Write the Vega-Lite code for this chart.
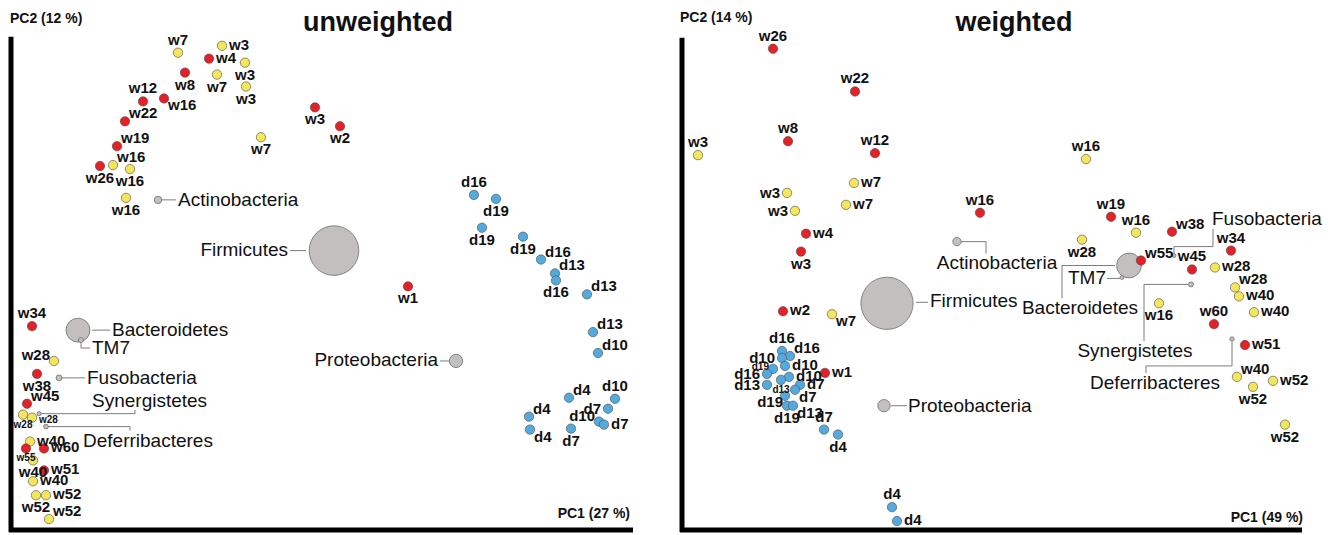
{
  "$schema": "https://vega.github.io/schema/vega-lite/v6.json",
  "width": 1330,
  "height": 535,
  "padding": 0,
  "autosize": {"type": "fit", "contains": "padding"},
  "background": "white",
  "view": {"stroke": null},
  "config": {"text": {"font": "Liberation Sans"}},
  "datasets": {
    "frame": [
      {"x": 11, "y": 37, "x2": 11, "y2": 535},
      {"x": 9, "y": 533, "x2": 633, "y2": 533},
      {"x": 682, "y": 38, "x2": 682, "y2": 535},
      {"x": 680, "y": 533, "x2": 1302, "y2": 533}
    ],
    "notes": [
      {"text": "unweighted", "x": 378, "y": 31, "kind": "title"},
      {"text": "weighted", "x": 1014, "y": 31, "kind": "title"},
      {"text": "PC2 (12 %)", "x": 10, "y": 23, "kind": "yaxis"},
      {"text": "PC2 (14 %)", "x": 680, "y": 22, "kind": "yaxis"},
      {"text": "PC1 (27 %)", "x": 630, "y": 521, "kind": "xaxis"},
      {"text": "PC1 (49 %)", "x": 1303, "y": 525, "kind": "xaxis"}
    ],
    "taxa": [
      {"analysis": "unweighted", "name": "Firmicutes", "x": 334, "y": 252, "abundance": 56},
      {"analysis": "unweighted", "name": "Bacteroidetes", "x": 78, "y": 332, "abundance": 13},
      {"analysis": "unweighted", "name": "Proteobacteria", "x": 456, "y": 363, "abundance": 4},
      {"analysis": "unweighted", "name": "Actinobacteria", "x": 158, "y": 201, "abundance": 1.25},
      {"analysis": "unweighted", "name": "Fusobacteria", "x": 59, "y": 380, "abundance": 0.8},
      {"analysis": "unweighted", "name": "TM7", "x": 81, "y": 342, "abundance": 0.56},
      {"analysis": "unweighted", "name": "Deferribacteres", "x": 46, "y": 429, "abundance": 0.5},
      {"analysis": "unweighted", "name": "Synergistetes", "x": 39, "y": 416, "abundance": 0.4},
      {"analysis": "weighted", "name": "Firmicutes", "x": 887, "y": 305, "abundance": 62},
      {"analysis": "weighted", "name": "Bacteroidetes", "x": 1129, "y": 267, "abundance": 14},
      {"analysis": "weighted", "name": "Proteobacteria", "x": 884, "y": 408, "abundance": 3.5},
      {"analysis": "weighted", "name": "Actinobacteria", "x": 957, "y": 243, "abundance": 1.6},
      {"analysis": "weighted", "name": "Synergistetes", "x": 1191, "y": 286, "abundance": 0.56},
      {"analysis": "weighted", "name": "Deferribacteres", "x": 1232, "y": 341, "abundance": 0.45},
      {"analysis": "weighted", "name": "Fusobacteria", "x": 1174, "y": 257, "abundance": 0.35},
      {"analysis": "weighted", "name": "TM7", "x": 1122, "y": 279, "abundance": 0.35}
    ],
    "taxonLabels": [
      {"name": "Actinobacteria", "x": 178, "y": 201, "side": "r"},
      {"name": "Firmicutes", "x": 288, "y": 251, "side": "l"},
      {"name": "Bacteroidetes", "x": 112, "y": 332, "side": "r"},
      {"name": "TM7", "x": 92, "y": 350, "side": "r"},
      {"name": "Fusobacteria", "x": 87, "y": 380, "side": "r"},
      {"name": "Synergistetes", "x": 92, "y": 403, "side": "r"},
      {"name": "Deferribacteres", "x": 83, "y": 443, "side": "r"},
      {"name": "Proteobacteria", "x": 438, "y": 362, "side": "l"},
      {"name": "Actinobacteria", "x": 997, "y": 264, "side": "c"},
      {"name": "Firmicutes", "x": 930, "y": 303, "side": "r"},
      {"name": "Bacteroidetes", "x": 1080, "y": 310, "side": "c"},
      {"name": "TM7", "x": 1106, "y": 280, "side": "l"},
      {"name": "Fusobacteria", "x": 1212, "y": 220, "side": "r"},
      {"name": "Synergistetes", "x": 1135, "y": 353, "side": "c"},
      {"name": "Deferribacteres", "x": 1155, "y": 385, "side": "c"},
      {"name": "Proteobacteria", "x": 908, "y": 408, "side": "r"}
    ],
    "connectors": [
      {"cid": "uAct", "ord": 1, "x": 162, "y": 201}, {"cid": "uAct", "ord": 2, "x": 176, "y": 201},
      {"cid": "uFir", "ord": 1, "x": 290, "y": 252}, {"cid": "uFir", "ord": 2, "x": 306, "y": 252},
      {"cid": "uBac", "ord": 1, "x": 92, "y": 332}, {"cid": "uBac", "ord": 2, "x": 110, "y": 332},
      {"cid": "uTM7", "ord": 1, "x": 81, "y": 344}, {"cid": "uTM7", "ord": 2, "x": 81, "y": 350}, {"cid": "uTM7", "ord": 3, "x": 90, "y": 350},
      {"cid": "uFus", "ord": 1, "x": 62, "y": 380}, {"cid": "uFus", "ord": 2, "x": 85, "y": 380},
      {"cid": "uSyn", "ord": 1, "x": 41, "y": 416}, {"cid": "uSyn", "ord": 2, "x": 135, "y": 416}, {"cid": "uSyn", "ord": 3, "x": 135, "y": 412},
      {"cid": "uDef", "ord": 1, "x": 48, "y": 429}, {"cid": "uDef", "ord": 2, "x": 130, "y": 429}, {"cid": "uDef", "ord": 3, "x": 130, "y": 433},
      {"cid": "uPro", "ord": 1, "x": 440, "y": 363}, {"cid": "uPro", "ord": 2, "x": 449, "y": 363},
      {"cid": "wAct", "ord": 1, "x": 961, "y": 243}, {"cid": "wAct", "ord": 2, "x": 986, "y": 243}, {"cid": "wAct", "ord": 3, "x": 986, "y": 255},
      {"cid": "wFir", "ord": 1, "x": 916, "y": 304}, {"cid": "wFir", "ord": 2, "x": 928, "y": 304},
      {"cid": "wBac", "ord": 1, "x": 1115, "y": 267}, {"cid": "wBac", "ord": 2, "x": 1062, "y": 267}, {"cid": "wBac", "ord": 3, "x": 1062, "y": 300},
      {"cid": "wTM7", "ord": 1, "x": 1120, "y": 280}, {"cid": "wTM7", "ord": 2, "x": 1107, "y": 280},
      {"cid": "wFus", "ord": 1, "x": 1174, "y": 255}, {"cid": "wFus", "ord": 2, "x": 1174, "y": 248}, {"cid": "wFus", "ord": 3, "x": 1213, "y": 248}, {"cid": "wFus", "ord": 4, "x": 1213, "y": 230},
      {"cid": "wSyn", "ord": 1, "x": 1188, "y": 286}, {"cid": "wSyn", "ord": 2, "x": 1144, "y": 286}, {"cid": "wSyn", "ord": 3, "x": 1144, "y": 343},
      {"cid": "wDef", "ord": 1, "x": 1232, "y": 344}, {"cid": "wDef", "ord": 2, "x": 1232, "y": 368}, {"cid": "wDef", "ord": 3, "x": 1146, "y": 368}, {"cid": "wDef", "ord": 4, "x": 1146, "y": 375},
      {"cid": "wPro", "ord": 1, "x": 891, "y": 408}, {"cid": "wPro", "ord": 2, "x": 907, "y": 408}
    ],
    "points": [
      {"a": "u", "s": "w7", "g": "Y", "x": 178, "y": 53, "pos": "t"},
      {"a": "u", "s": "w3", "g": "Y", "x": 222, "y": 46, "pos": "r"},
      {"a": "u", "s": "w4", "g": "R", "x": 209, "y": 59, "pos": "r"},
      {"a": "u", "s": "w3", "g": "Y", "x": 245, "y": 63, "pos": "b"},
      {"a": "u", "s": "w8", "g": "R", "x": 185, "y": 73, "pos": "b"},
      {"a": "u", "s": "w7", "g": "Y", "x": 217, "y": 75, "pos": "b"},
      {"a": "u", "s": "w3", "g": "Y", "x": 246, "y": 87, "pos": "b"},
      {"a": "u", "s": "w12", "g": "R", "x": 143, "y": 102, "pos": "t"},
      {"a": "u", "s": "w16", "g": "R", "x": 164, "y": 99, "pos": "br"},
      {"a": "u", "s": "w22", "g": "R", "x": 125, "y": 122, "pos": "tr"},
      {"a": "u", "s": "w19", "g": "R", "x": 117, "y": 147, "pos": "tr"},
      {"a": "u", "s": "w16", "g": "Y", "x": 113, "y": 166, "pos": "tr"},
      {"a": "u", "s": "w26", "g": "R", "x": 100, "y": 167, "pos": "b"},
      {"a": "u", "s": "w16", "g": "Y", "x": 130, "y": 170, "pos": "b"},
      {"a": "u", "s": "w16", "g": "Y", "x": 126, "y": 199, "pos": "b"},
      {"a": "u", "s": "w7", "g": "Y", "x": 261, "y": 138, "pos": "b"},
      {"a": "u", "s": "w3", "g": "R", "x": 315, "y": 108, "pos": "b"},
      {"a": "u", "s": "w2", "g": "R", "x": 340, "y": 127, "pos": "b"},
      {"a": "u", "s": "w1", "g": "R", "x": 408, "y": 288, "pos": "b"},
      {"a": "u", "s": "d16", "g": "B", "x": 474, "y": 196, "pos": "t"},
      {"a": "u", "s": "d19", "g": "B", "x": 496, "y": 200, "pos": "b"},
      {"a": "u", "s": "d19", "g": "B", "x": 482, "y": 229, "pos": "b"},
      {"a": "u", "s": "d19", "g": "B", "x": 523, "y": 238, "pos": "b"},
      {"a": "u", "s": "d16", "g": "B", "x": 541, "y": 261, "pos": "tr"},
      {"a": "u", "s": "d13", "g": "B", "x": 555, "y": 275, "pos": "tr"},
      {"a": "u", "s": "d16", "g": "B", "x": 556, "y": 282, "pos": "b"},
      {"a": "u", "s": "d13", "g": "B", "x": 587, "y": 296, "pos": "tr"},
      {"a": "u", "s": "d13", "g": "B", "x": 593, "y": 334, "pos": "tr"},
      {"a": "u", "s": "d10", "g": "B", "x": 598, "y": 355, "pos": "tr"},
      {"a": "u", "s": "d4", "g": "B", "x": 569, "y": 400, "pos": "tr"},
      {"a": "u", "s": "d10", "g": "B", "x": 615, "y": 401, "pos": "t"},
      {"a": "u", "s": "d7", "g": "B", "x": 608, "y": 411, "pos": "l"},
      {"a": "u", "s": "d4", "g": "B", "x": 529, "y": 419, "pos": "tr"},
      {"a": "u", "s": "d10", "g": "B", "x": 599, "y": 424, "pos": "tl"},
      {"a": "u", "s": "d7", "g": "B", "x": 604, "y": 427, "pos": "r"},
      {"a": "u", "s": "d4", "g": "B", "x": 530, "y": 432, "pos": "br"},
      {"a": "u", "s": "d7", "g": "B", "x": 571, "y": 431, "pos": "b"},
      {"a": "u", "s": "w34", "g": "R", "x": 32, "y": 328, "pos": "t"},
      {"a": "u", "s": "w28", "g": "Y", "x": 54, "y": 363, "pos": "tl"},
      {"a": "u", "s": "w38", "g": "R", "x": 37, "y": 376, "pos": "b"},
      {"a": "u", "s": "w45", "g": "R", "x": 27, "y": 406, "pos": "tr"},
      {"a": "u", "s": "w28", "g": "Y", "x": 23, "y": 417, "pos": "sb"},
      {"a": "u", "s": "w28", "g": "Y", "x": 32, "y": 420, "pos": "sr"},
      {"a": "u", "s": "w40", "g": "Y", "x": 30, "y": 444, "pos": "r"},
      {"a": "u", "s": "w60", "g": "R", "x": 44, "y": 451, "pos": "r"},
      {"a": "u", "s": "w55", "g": "R", "x": 26, "y": 451, "pos": "sb"},
      {"a": "u", "s": "w40", "g": "Y", "x": 33, "y": 463, "pos": "b"},
      {"a": "u", "s": "w51", "g": "R", "x": 44, "y": 473, "pos": "r"},
      {"a": "u", "s": "w40", "g": "Y", "x": 33, "y": 484, "pos": "r"},
      {"a": "u", "s": "w52", "g": "Y", "x": 36, "y": 498, "pos": "b"},
      {"a": "u", "s": "w52", "g": "Y", "x": 46, "y": 498, "pos": "r"},
      {"a": "u", "s": "w52", "g": "Y", "x": 49, "y": 522, "pos": "tr"},
      {"a": "w", "s": "w26", "g": "R", "x": 773, "y": 49, "pos": "t"},
      {"a": "w", "s": "w22", "g": "R", "x": 855, "y": 92, "pos": "t"},
      {"a": "w", "s": "w8", "g": "R", "x": 788, "y": 142, "pos": "t"},
      {"a": "w", "s": "w3", "g": "Y", "x": 698, "y": 156, "pos": "t"},
      {"a": "w", "s": "w12", "g": "R", "x": 875, "y": 154, "pos": "t"},
      {"a": "w", "s": "w7", "g": "Y", "x": 854, "y": 184, "pos": "r"},
      {"a": "w", "s": "w3", "g": "Y", "x": 787, "y": 194, "pos": "l"},
      {"a": "w", "s": "w7", "g": "Y", "x": 846, "y": 206, "pos": "r"},
      {"a": "w", "s": "w3", "g": "Y", "x": 795, "y": 212, "pos": "l"},
      {"a": "w", "s": "w16", "g": "R", "x": 980, "y": 214, "pos": "t"},
      {"a": "w", "s": "w4", "g": "R", "x": 806, "y": 235, "pos": "r"},
      {"a": "w", "s": "w3", "g": "R", "x": 801, "y": 253, "pos": "b"},
      {"a": "w", "s": "w2", "g": "R", "x": 783, "y": 313, "pos": "r"},
      {"a": "w", "s": "w7", "g": "Y", "x": 832, "y": 316, "pos": "br"},
      {"a": "w", "s": "w1", "g": "R", "x": 825, "y": 375, "pos": "r"},
      {"a": "w", "s": "d16", "g": "B", "x": 782, "y": 353, "pos": "t"},
      {"a": "w", "s": "d16", "g": "B", "x": 790, "y": 358, "pos": "tr"},
      {"a": "w", "s": "d10", "g": "B", "x": 782, "y": 360, "pos": "l"},
      {"a": "w", "s": "d19", "g": "B", "x": 773, "y": 371, "pos": "stl"},
      {"a": "w", "s": "d10", "g": "B", "x": 785, "y": 368, "pos": "r"},
      {"a": "w", "s": "d16", "g": "B", "x": 767, "y": 376, "pos": "l"},
      {"a": "w", "s": "d10", "g": "B", "x": 789, "y": 379, "pos": "r"},
      {"a": "w", "s": "d13", "g": "B", "x": 781, "y": 382, "pos": "sb"},
      {"a": "w", "s": "d13", "g": "B", "x": 767, "y": 387, "pos": "l"},
      {"a": "w", "s": "d7", "g": "B", "x": 800, "y": 387, "pos": "r"},
      {"a": "w", "s": "d7", "g": "B", "x": 795, "y": 392, "pos": "br"},
      {"a": "w", "s": "d19", "g": "B", "x": 785, "y": 398, "pos": "bl"},
      {"a": "w", "s": "d19", "g": "B", "x": 787, "y": 408, "pos": "b"},
      {"a": "w", "s": "d13", "g": "B", "x": 793, "y": 408, "pos": "br"},
      {"a": "w", "s": "d7", "g": "B", "x": 824, "y": 432, "pos": "t"},
      {"a": "w", "s": "d4", "g": "B", "x": 838, "y": 437, "pos": "b"},
      {"a": "w", "s": "d4", "g": "B", "x": 892, "y": 510, "pos": "t"},
      {"a": "w", "s": "d4", "g": "B", "x": 897, "y": 524, "pos": "r"},
      {"a": "w", "s": "w16", "g": "Y", "x": 1086, "y": 160, "pos": "t"},
      {"a": "w", "s": "w19", "g": "R", "x": 1111, "y": 218, "pos": "t"},
      {"a": "w", "s": "w16", "g": "Y", "x": 1136, "y": 234, "pos": "t"},
      {"a": "w", "s": "w38", "g": "R", "x": 1172, "y": 233, "pos": "tr"},
      {"a": "w", "s": "w28", "g": "Y", "x": 1082, "y": 241, "pos": "b"},
      {"a": "w", "s": "w34", "g": "R", "x": 1231, "y": 252, "pos": "t"},
      {"a": "w", "s": "w55", "g": "R", "x": 1141, "y": 262, "pos": "tr"},
      {"a": "w", "s": "w45", "g": "R", "x": 1192, "y": 271, "pos": "t"},
      {"a": "w", "s": "w28", "g": "Y", "x": 1215, "y": 269, "pos": "r"},
      {"a": "w", "s": "w28", "g": "Y", "x": 1235, "y": 289, "pos": "tr"},
      {"a": "w", "s": "w40", "g": "Y", "x": 1239, "y": 298, "pos": "r"},
      {"a": "w", "s": "w16", "g": "Y", "x": 1159, "y": 305, "pos": "b"},
      {"a": "w", "s": "w40", "g": "Y", "x": 1254, "y": 314, "pos": "r"},
      {"a": "w", "s": "w60", "g": "R", "x": 1214, "y": 326, "pos": "t"},
      {"a": "w", "s": "w51", "g": "R", "x": 1245, "y": 347, "pos": "r"},
      {"a": "w", "s": "w40", "g": "Y", "x": 1237, "y": 379, "pos": "tr"},
      {"a": "w", "s": "w52", "g": "Y", "x": 1273, "y": 383, "pos": "r"},
      {"a": "w", "s": "w52", "g": "Y", "x": 1253, "y": 389, "pos": "b"},
      {"a": "w", "s": "w52", "g": "Y", "x": 1285, "y": 427, "pos": "b"}
    ]
  },
  "encoding": {
    "x": {"field": "x", "type": "quantitative", "scale": {"domain": [0, 1330], "nice": false, "zero": false}, "axis": null},
    "y": {"field": "y", "type": "quantitative", "scale": {"domain": [0, 535], "nice": false, "zero": false, "reverse": true}, "axis": null}
  },
  "layer": [
    {
      "data": {"name": "frame"},
      "mark": {"type": "rule", "color": "#000000", "strokeWidth": 5},
      "encoding": {"x2": {"field": "x2"}, "y2": {"field": "y2"}}
    },
    {
      "data": {"name": "connectors"},
      "mark": {"type": "line", "color": "#7d7d7d", "strokeWidth": 1, "interpolate": "linear"},
      "encoding": {"detail": {"field": "cid"}, "order": {"field": "ord", "type": "quantitative"}}
    },
    {
      "data": {"name": "taxa"},
      "mark": {"type": "point", "shape": "circle", "filled": true, "fill": "#c3bfbf", "stroke": "#6f6f6f", "strokeWidth": 0.8, "opacity": 1},
      "encoding": {
        "size": {"field": "abundance", "type": "quantitative", "scale": {"domain": [0, 100], "range": [0, 4400]}, "legend": null},
        "order": {"field": "abundance", "type": "quantitative", "sort": "descending"}
      }
    },
    {
      "data": {"name": "points"},
      "mark": {"type": "point", "shape": "circle", "filled": true, "size": 88, "stroke": "#4a4a4a", "strokeWidth": 0.6, "opacity": 1},
      "encoding": {
        "color": {"field": "g", "type": "nominal", "scale": {"domain": ["Y", "R", "B"], "range": ["#f4e65c", "#e42129", "#55aadd"]}, "legend": null}
      }
    },
    {"data": {"name": "points"}, "transform": [{"filter": "datum.pos === 't'"}],
     "mark": {"type": "text", "align": "center", "baseline": "alphabetic", "dy": -8, "fontSize": 15, "fontWeight": "bold", "color": "#111111"},
     "encoding": {"text": {"field": "s"}}},
    {"data": {"name": "points"}, "transform": [{"filter": "datum.pos === 'b'"}],
     "mark": {"type": "text", "align": "center", "baseline": "alphabetic", "dy": 17, "fontSize": 15, "fontWeight": "bold", "color": "#111111"},
     "encoding": {"text": {"field": "s"}}},
    {"data": {"name": "points"}, "transform": [{"filter": "datum.pos === 'r'"}],
     "mark": {"type": "text", "align": "left", "baseline": "alphabetic", "dx": 7, "dy": 4, "fontSize": 15, "fontWeight": "bold", "color": "#111111"},
     "encoding": {"text": {"field": "s"}}},
    {"data": {"name": "points"}, "transform": [{"filter": "datum.pos === 'l'"}],
     "mark": {"type": "text", "align": "right", "baseline": "alphabetic", "dx": -7, "dy": 5, "fontSize": 15, "fontWeight": "bold", "color": "#111111"},
     "encoding": {"text": {"field": "s"}}},
    {"data": {"name": "points"}, "transform": [{"filter": "datum.pos === 'tr'"}],
     "mark": {"type": "text", "align": "left", "baseline": "alphabetic", "dx": 4, "dy": -3, "fontSize": 15, "fontWeight": "bold", "color": "#111111"},
     "encoding": {"text": {"field": "s"}}},
    {"data": {"name": "points"}, "transform": [{"filter": "datum.pos === 'br'"}],
     "mark": {"type": "text", "align": "left", "baseline": "alphabetic", "dx": 4, "dy": 12, "fontSize": 15, "fontWeight": "bold", "color": "#111111"},
     "encoding": {"text": {"field": "s"}}},
    {"data": {"name": "points"}, "transform": [{"filter": "datum.pos === 'tl'"}],
     "mark": {"type": "text", "align": "right", "baseline": "alphabetic", "dx": -4, "dy": -1, "fontSize": 15, "fontWeight": "bold", "color": "#111111"},
     "encoding": {"text": {"field": "s"}}},
    {"data": {"name": "points"}, "transform": [{"filter": "datum.pos === 'bl'"}],
     "mark": {"type": "text", "align": "right", "baseline": "alphabetic", "dx": -2, "dy": 11, "fontSize": 15, "fontWeight": "bold", "color": "#111111"},
     "encoding": {"text": {"field": "s"}}},
    {"data": {"name": "points"}, "transform": [{"filter": "datum.pos === 'sb'"}],
     "mark": {"type": "text", "align": "center", "baseline": "alphabetic", "dy": 13, "fontSize": 10, "fontWeight": "bold", "color": "#111111"},
     "encoding": {"text": {"field": "s"}}},
    {"data": {"name": "points"}, "transform": [{"filter": "datum.pos === 'sr'"}],
     "mark": {"type": "text", "align": "left", "baseline": "alphabetic", "dx": 7, "dy": 5, "fontSize": 10, "fontWeight": "bold", "color": "#111111"},
     "encoding": {"text": {"field": "s"}}},
    {"data": {"name": "points"}, "transform": [{"filter": "datum.pos === 'stl'"}],
     "mark": {"type": "text", "align": "right", "baseline": "alphabetic", "dx": -4, "dy": 1, "fontSize": 10, "fontWeight": "bold", "color": "#111111"},
     "encoding": {"text": {"field": "s"}}},
    {"data": {"name": "taxonLabels"}, "transform": [{"filter": "datum.side === 'r'"}],
     "mark": {"type": "text", "align": "left", "baseline": "middle", "fontSize": 19, "color": "#111111"},
     "encoding": {"text": {"field": "name"}}},
    {"data": {"name": "taxonLabels"}, "transform": [{"filter": "datum.side === 'l'"}],
     "mark": {"type": "text", "align": "right", "baseline": "middle", "fontSize": 19, "color": "#111111"},
     "encoding": {"text": {"field": "name"}}},
    {"data": {"name": "taxonLabels"}, "transform": [{"filter": "datum.side === 'c'"}],
     "mark": {"type": "text", "align": "center", "baseline": "middle", "fontSize": 19, "color": "#111111"},
     "encoding": {"text": {"field": "name"}}},
    {"data": {"name": "notes"}, "transform": [{"filter": "datum.kind === 'title'"}],
     "mark": {"type": "text", "align": "center", "baseline": "alphabetic", "fontSize": 27, "fontWeight": "bold", "color": "#111111"},
     "encoding": {"text": {"field": "text"}}},
    {"data": {"name": "notes"}, "transform": [{"filter": "datum.kind === 'yaxis'"}],
     "mark": {"type": "text", "align": "left", "baseline": "alphabetic", "fontSize": 14, "fontWeight": "bold", "color": "#111111"},
     "encoding": {"text": {"field": "text"}}},
    {"data": {"name": "notes"}, "transform": [{"filter": "datum.kind === 'xaxis'"}],
     "mark": {"type": "text", "align": "right", "baseline": "alphabetic", "fontSize": 14, "fontWeight": "bold", "color": "#111111"},
     "encoding": {"text": {"field": "text"}}}
  ]
}
